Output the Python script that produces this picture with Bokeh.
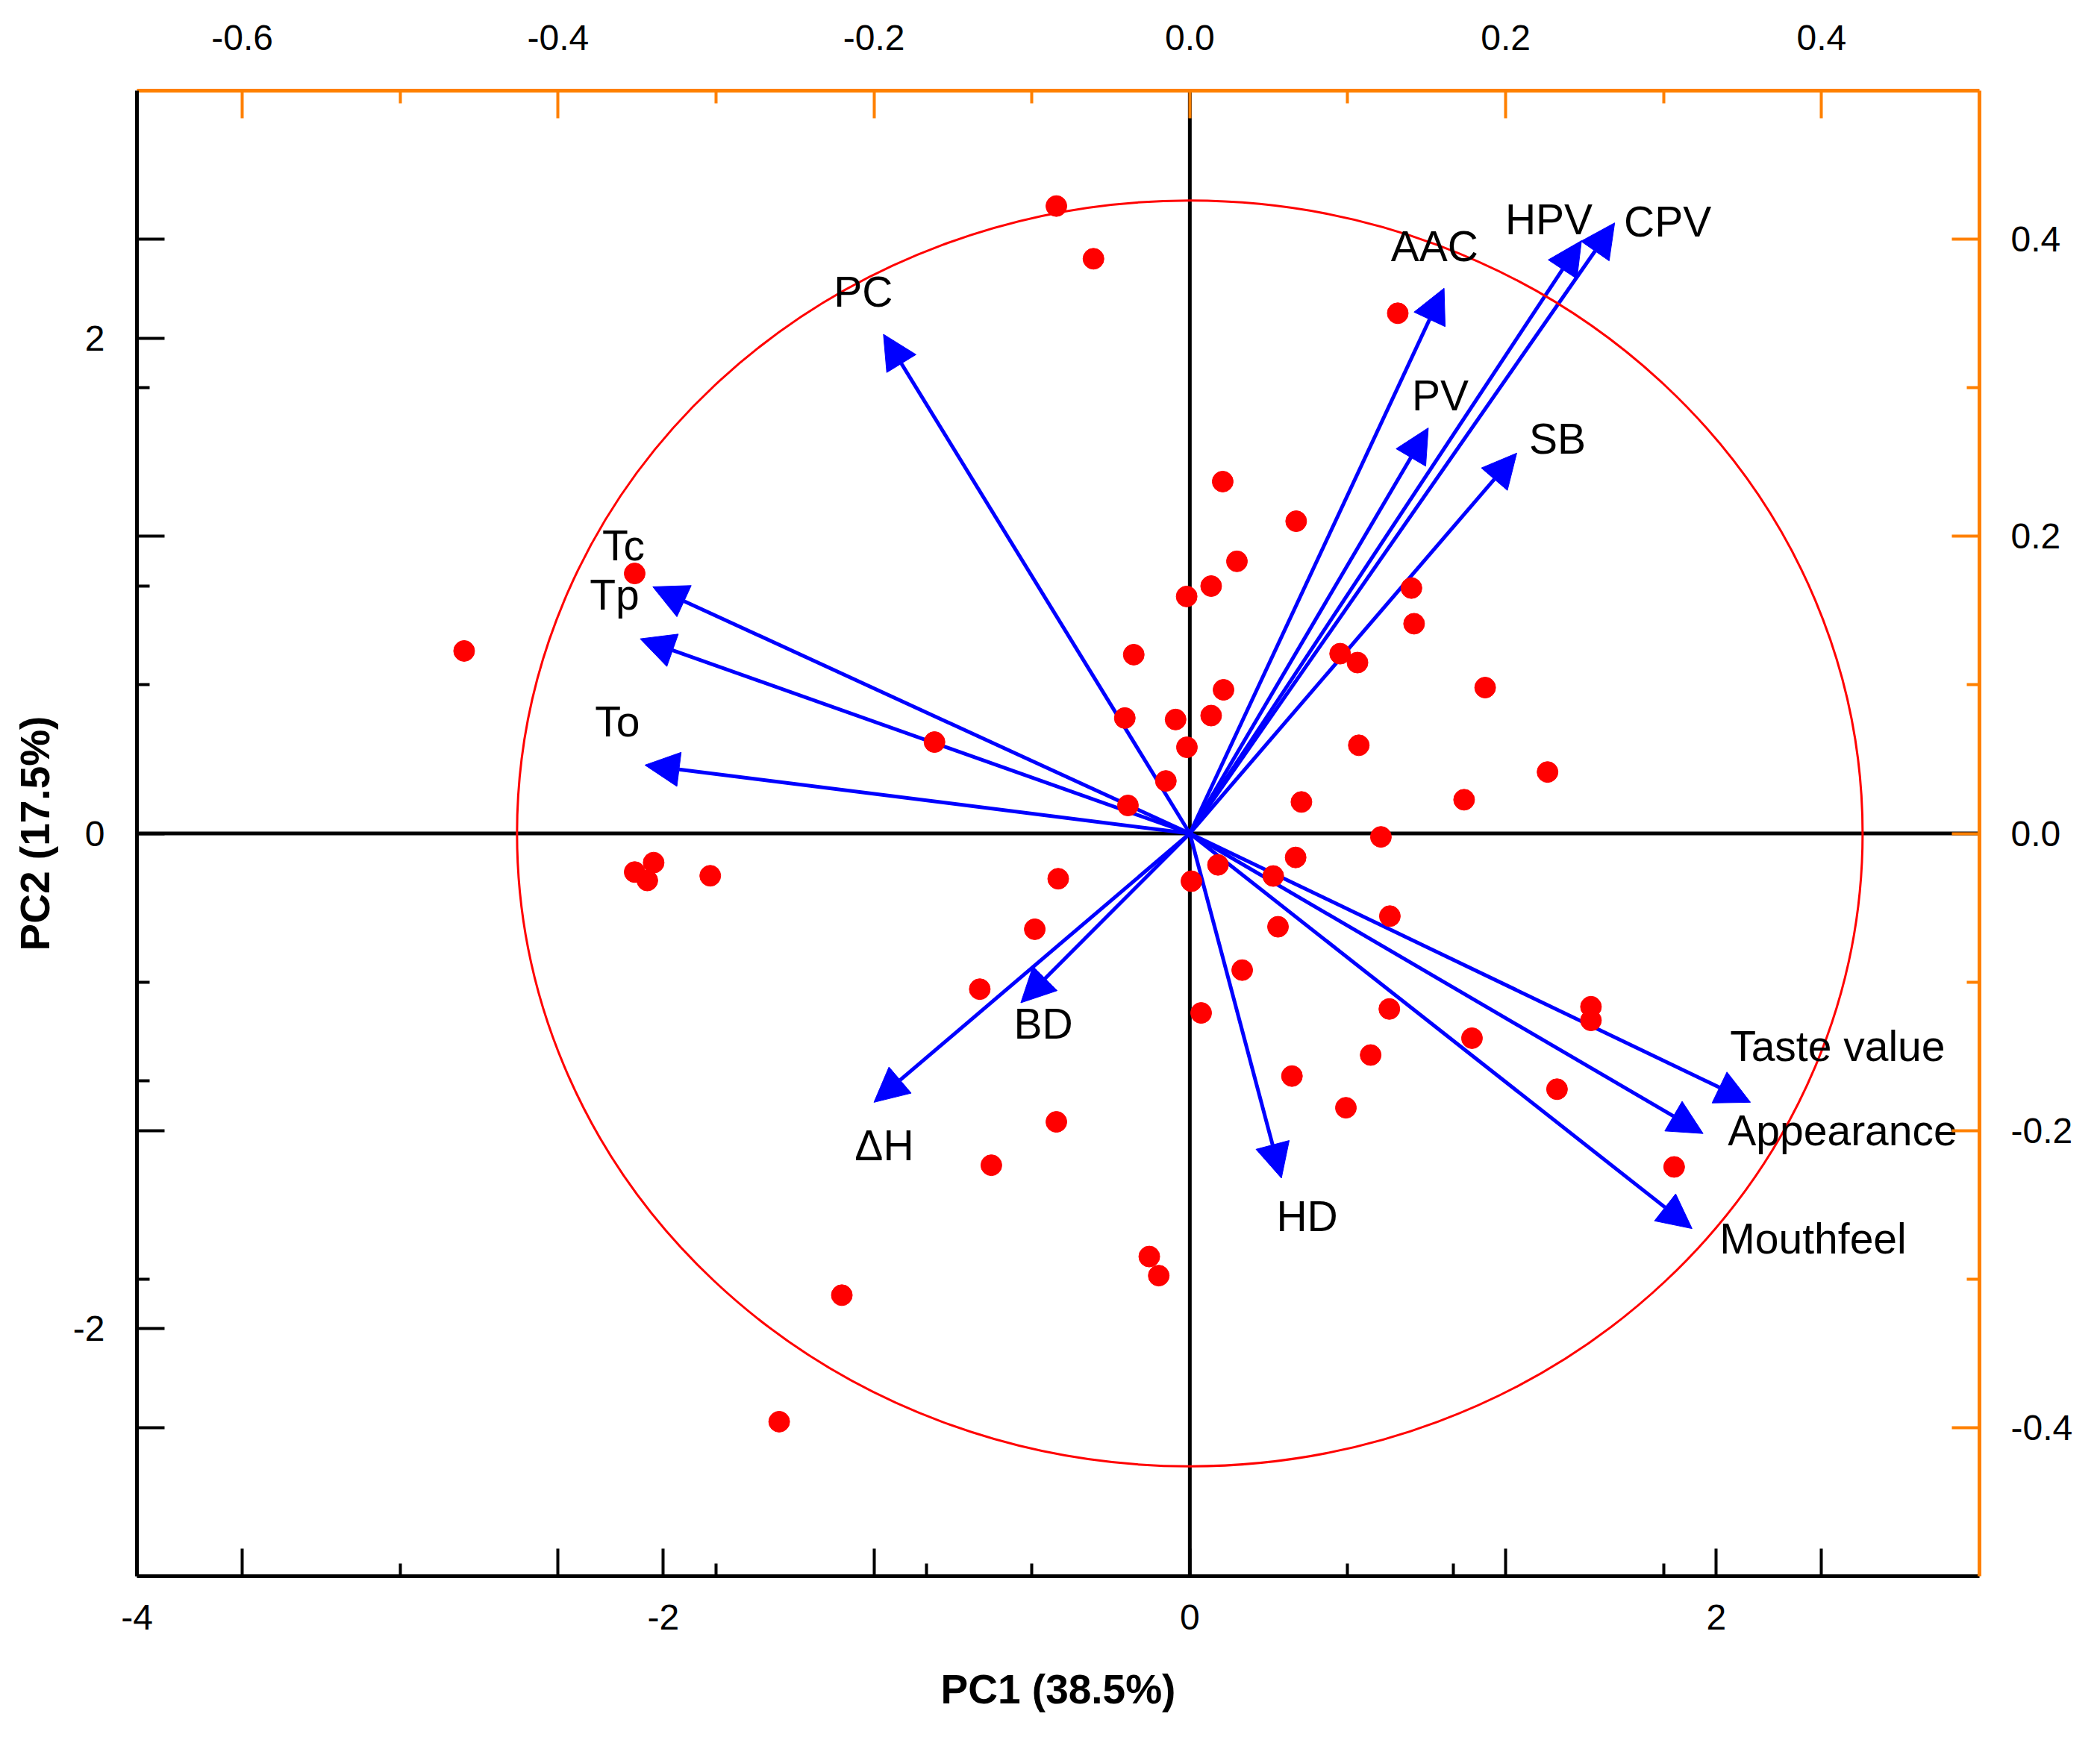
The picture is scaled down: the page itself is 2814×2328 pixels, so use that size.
from bokeh.plotting import figure
from bokeh.models import (ColumnDataSource, Range1d, LinearAxis, FixedTicker,
                          PrintfTickFormatter, Span, Arrow, NormalHead)
from bokeh.core.properties import value
from bokeh.embed import file_html
from bokeh.resources import INLINE

# scores of the samples (PC1, PC2), bottom / left axes
pc1_scores = [-0.507, -0.366, -2.109, -2.757, -0.970, 0.125, 0.081, -0.012, -0.213, 0.128,
              -0.247, -0.054, 0.081, -0.011, -0.091, -0.235, 0.790, 0.404, 0.179, 0.842,
              0.852, 0.571, 0.637, 1.122, 0.642, 1.359, 0.424, 1.042, 0.726, 0.402,
              -2.109, -2.037, -2.061, -1.822, -0.500, -0.589, -0.798, 0.006, 0.107, 0.043,
              -0.507, -0.754, -0.154, -0.118, -1.322, -1.560, 0.317, 0.760, 0.335, 0.199,
              0.758, 1.524, 1.524, 1.072, 0.687, 0.388, 1.395, 0.593, 1.840]
pc2_scores = [2.534, 2.321, 1.050, 0.737, 0.369, 1.421, 0.999, 0.957, 0.722, 0.580,
              0.466, 0.460, 0.476, 0.348, 0.212, 0.113, 2.101, 1.261, 1.099, 0.991,
              0.847, 0.726, 0.690, 0.589, 0.356, 0.248, 0.127, 0.136, -0.014, -0.097,
              -0.156, -0.118, -0.190, -0.171, -0.183, -0.387, -0.629, -0.193, -0.127, -0.725,
              -1.165, -1.340, -1.709, -1.786, -1.865, -2.376, -0.172, -0.334, -0.377, -0.552,
              -0.709, -0.700, -0.755, -0.827, -0.895, -0.980, -1.033, -1.108, -1.347]

# loadings of the variables, top / right axes
variables = ["PC", "Tc", "Tp", "To", "AAC", "HPV", "CPV", "PV", "SB", "BD",
             "\u0394H", "HD", "Taste value", "Appearance", "Mouthfeel"]
load_pc1 = [-0.194, -0.340, -0.348, -0.345, 0.161, 0.248, 0.269, 0.151, 0.207, -0.107,
            -0.200, 0.058, 0.355, 0.325, 0.318]
load_pc2 = [0.336, 0.166, 0.131, 0.046, 0.367, 0.399, 0.411, 0.273, 0.256, -0.114,
            -0.181, -0.232, -0.181, -0.202, -0.266]
# where the variable names are written (score units)
label_x = [-1.353, -2.232, -2.280, -2.260, 0.764, 1.198, 1.649, 0.844, 1.289, -0.669,
           -1.273, 0.329, 2.052, 2.044, 2.013]
label_y = [2.129, 1.102, 0.905, 0.393, 2.311, 2.419, 2.410, 1.710, 1.533, -0.829,
           -1.319, -1.605, -0.918, -1.261, -1.696]

circle_radius = 2.556
load_scale = 6  # score units for one loading unit

# ticks
score_x_major = [-4, -2, 0, 2]
score_x_minor = [-3, -1, 1]
score_y_major = [-2, 0, 2]
score_y_minor = [-1, 1]
top_major = [-0.6, -0.4, -0.2, 0.0, 0.2, 0.4]
top_minor = [-0.5, -0.3, -0.1, 0.1, 0.3]
right_major = [-0.4, -0.2, 0.0, 0.2, 0.4]
right_minor = [-0.3, -0.1, 0.1, 0.3]

ORANGE = "#FF8000"
FONT = "Liberation Sans"


def mirrored(own, other):
    # own ticks plus the ticks of the opposite (loading) axis, in score units
    return sorted(set(float(t) for t in own) | set(round(t * load_scale, 6) for t in other))


def style_axis(ax, color, major, minor, overrides, standoff):
    ax.ticker = FixedTicker(ticks=major, minor_ticks=minor)
    if overrides is not None:
        ax.major_label_overrides = overrides
    ax.axis_line_color = color
    ax.axis_line_width = 5
    ax.major_tick_line_color = color
    ax.major_tick_line_width = 4
    ax.major_tick_in = 37
    ax.major_tick_out = 0
    ax.minor_tick_line_color = color
    ax.minor_tick_line_width = 4
    ax.minor_tick_in = 17
    ax.minor_tick_out = 0
    ax.major_label_text_font = FONT
    ax.major_label_text_font_size = "48px"
    ax.major_label_text_color = "black"
    ax.major_label_standoff = standoff
    ax.axis_label_text_font = FONT
    ax.axis_label_text_font_size = "55px"
    ax.axis_label_text_font_style = "bold"
    ax.axis_label_text_color = "black"


p = figure(width=2806, height=2320, x_range=Range1d(-4, 3), y_range=Range1d(-3, 3),
           output_backend="svg", toolbar_location=None,
           min_border_left=183, min_border_right=154, min_border_top=121, min_border_bottom=208)
p.extra_x_ranges = {"ltop": Range1d(-4 / load_scale, 3 / load_scale)}
p.extra_y_ranges = {"lright": Range1d(-3 / load_scale, 3 / load_scale)}
p.xgrid.visible = False
p.ygrid.visible = False
p.outline_line_color = None
p.background_fill_color = "white"

# bottom axis (PC1 scores) with the top axis ticks mirrored
bx_major = mirrored(score_x_major, top_major)
bx_minor = mirrored(score_x_minor, top_minor)
bx_labels = {t: (str(int(t)) if t in score_x_major else "") for t in bx_major}
xa = p.xaxis[0]
style_axis(xa, "black", bx_major, bx_minor, bx_labels, 38)
xa.axis_label = "PC1 (38.5%)"
xa.axis_label_standoff = 46

ly_major = mirrored(score_y_major, right_major)
ly_minor = mirrored(score_y_minor, right_minor)
ly_labels = {t: (str(int(t)) if t in score_y_major else "") for t in ly_major}
ya = p.yaxis[0]
style_axis(ya, "black", ly_major, ly_minor, ly_labels, 43)
ya.axis_label = "PC2 (17.5%)"
ya.axis_label_standoff = 17

top_axis = LinearAxis(x_range_name="ltop", formatter=PrintfTickFormatter(format="%.1f"))
style_axis(top_axis, ORANGE, top_major, top_minor, None, 55)
p.add_layout(top_axis, "above")

right_axis = LinearAxis(y_range_name="lright", formatter=PrintfTickFormatter(format="%.1f"))
style_axis(right_axis, ORANGE, right_major, right_minor, None, 42)
p.add_layout(right_axis, "right")

# zero lines
p.add_layout(Span(location=0, dimension="width", line_color="black", line_width=5, level="underlay"))
p.add_layout(Span(location=0, dimension="height", line_color="black", line_width=5, level="underlay"))

# loading arrows
arrow_src = ColumnDataSource(data=dict(x0=[0] * len(variables), y0=[0] * len(variables),
                                       x1=load_pc1, y1=load_pc2))
p.add_layout(Arrow(x_start="x0", y_start="y0", x_end="x1", y_end="y1", source=arrow_src,
                   x_range_name="ltop", y_range_name="lright",
                   line_color="#0000FF", line_width=5, level="underlay",
                   end=NormalHead(size=46, fill_color="#0000FF", line_color="#0000FF", line_width=1)))

# correlation circle
p.ellipse(x=[0], y=[0], width=[2 * circle_radius], height=[2 * circle_radius],
          fill_color=None, line_color="#FF0000", line_width=3)

# sample scores
p.scatter(pc1_scores, pc2_scores, size=28, fill_color="#FF0000", line_color="#FF0000")

# variable names
p.text(x=label_x, y=label_y, text=variables, text_font=value(FONT), text_font_size="57px",
       text_color="black", text_align="left", text_baseline="alphabetic", y_offset=-20)

open("out.html", "w", encoding="utf-8").write(file_html(p, INLINE))
